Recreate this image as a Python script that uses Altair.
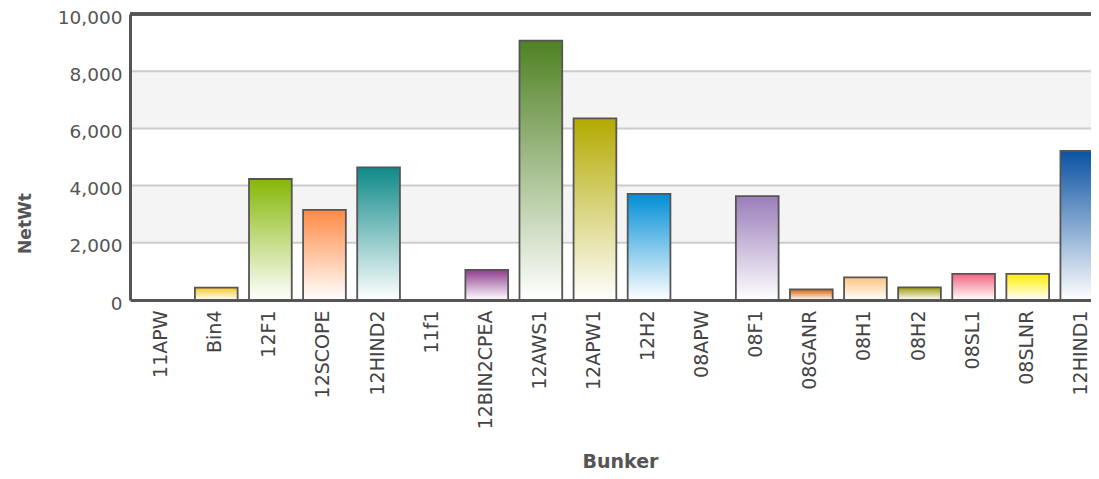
import altair as alt
import pandas as pd

bunkers = ["11APW", "Bin4", "12F1", "12SCOPE", "12HIND2", "11f1", "12BIN2CPEA",
           "12AWS1", "12APW1", "12H2", "08APW", "08F1", "08GANR", "08H1", "08H2",
           "08SL1", "08SLNR", "12HIND1"]
netwt = [0, 430, 4230, 3150, 4640, 0, 1050, 9070, 6350, 3710, 0, 3630, 370,
         790, 440, 910, 910, 5210]
colors = ["#cccccc", "#F5C72A", "#86B707", "#FF8A45", "#0E8A88", "#cccccc",
          "#8E3D8E", "#4F8123", "#B3AA00", "#008ED6", "#cccccc", "#9A7DBA",
          "#D4640A", "#FFC47F", "#9E9A0E", "#F26580", "#FFEE00", "#0A52A2"]
y_ticks = [0, 2000, 4000, 6000, 8000, 10000]
band_lo = [2000, 6000]
band_hi = [4000, 8000]
grid_vals = [2000, 4000, 6000, 8000]

df = pd.DataFrame({"Bunker": bunkers, "NetWt": netwt})
bands_df = pd.DataFrame({"lo": band_lo, "hi": band_hi})
grid_df = pd.DataFrame({"v": grid_vals})

yscale = alt.Scale(domain=[0, 10000], nice=False)
xscale = alt.Scale(domain=bunkers, paddingInner=0.21, paddingOuter=0.2, range=[0, 984])

yaxis = alt.Axis(values=y_ticks, format=",.0f", labelFontSize=18.5, labelFont="DejaVu Sans",
                 labelColor="#555555", ticks=False, labelPadding=8, labelOffset=3,
                 domain=True, domainColor="#555555", domainWidth=3, grid=False,
                 title="NetWt", titleFontSize=17, titleFont="DejaVu Sans",
                 titleFontWeight="bold", titleColor="#555555", titleAngle=270,
                 titleX=-105, titleY=209, titleAlign="center", titleBaseline="middle",
                 zindex=1)
xaxis = alt.Axis(labelAngle=270, labelFontSize=19, labelFont="DejaVu Sans",
                 labelColor="#444444", ticks=False, labelPadding=10, labelOffset=-1,
                 domain=True, domainColor="#555555", domainWidth=3, grid=False,
                 title="Bunker", titleFontSize=19, titleFont="DejaVu Sans",
                 titleFontWeight="bold", titleColor="#555555", titleX=490, titleY=161,
                 titleAlign="center", titleBaseline="middle", zindex=1)

bands = alt.Chart(bands_df).mark_rect(fill="#f4f4f4").encode(
    y=alt.Y("lo:Q", scale=yscale, axis=yaxis),
    y2="hi:Q",
    x=alt.value(0),
    x2=alt.value("width"),
)

grid = alt.Chart(grid_df).mark_rule(color="#cccccc", strokeWidth=2).encode(
    y=alt.Y("v:Q", scale=yscale),
    x=alt.value(0),
    x2=alt.value("width"),
)

top_border = alt.Chart(grid_df).mark_rule(color="#555555", strokeWidth=3).encode(
    y=alt.value(0),
    x=alt.value(0),
    x2=alt.value("width"),
)

layers = [bands, grid]
for b, c in zip(bunkers, colors):
    grad = alt.Gradient(
        gradient="linear",
        stops=[alt.GradientStop(color=c, offset=0),
               alt.GradientStop(color="#ffffff", offset=1)],
        x1=0, x2=0, y1=0, y2=1,
    )
    layers.append(
        alt.Chart(df).transform_filter(alt.datum.Bunker == b)
        .mark_bar(fill=grad, stroke="#555555", strokeWidth=1.8, clip=True)
        .encode(
            x=alt.X("Bunker:N", scale=xscale, axis=xaxis, sort=bunkers),
            y=alt.Y("NetWt:Q", scale=yscale),
        )
    )
layers.append(top_border)

chart = alt.layer(*layers).properties(
    width=961, height=286, autosize="none",
    padding={"left": 122, "top": 6, "right": 0, "bottom": 171},
).configure_view(stroke=None)

chart.save("out.html", embed_options={"renderer": "svg", "actions": False})
